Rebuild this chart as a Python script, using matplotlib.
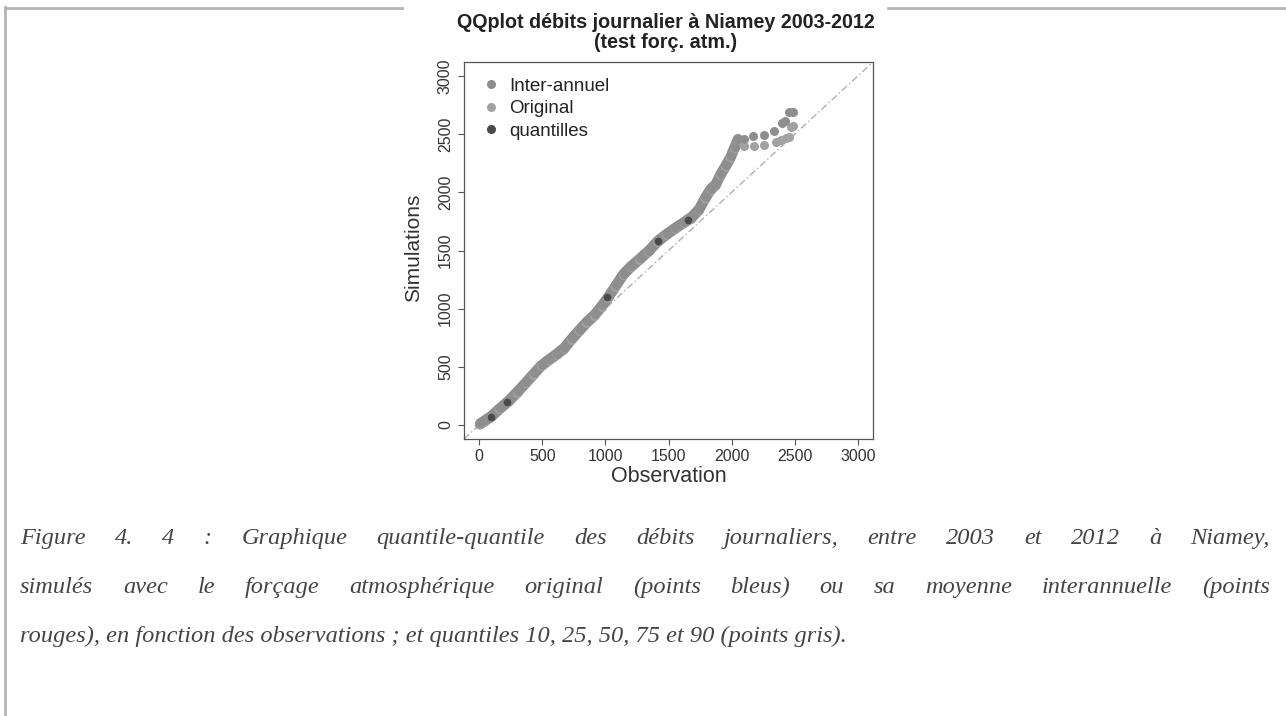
import matplotlib
matplotlib.use("Agg")
import matplotlib.pyplot as plt
from matplotlib.lines import Line2D

# quantile-quantile values (observation, simulation)
obs_orig = [5, 40, 95, 160, 230, 300, 370, 430, 490, 550, 610, 670, 730, 790, 850,
            910, 970, 1020, 1080, 1140, 1200, 1270, 1340, 1410, 1480, 1550, 1620,
            1680, 1740, 1790, 1830, 1870, 1910, 1950, 1990, 2020, 2050,
            2095, 2175, 2254, 2349, 2389, 2429, 2452, 2468, 2484]
sim_orig = [5, 30, 69, 135, 198, 275, 360, 431, 505, 555, 600, 650, 730, 805, 875,
            935, 1015, 1090, 1190, 1290, 1355, 1420, 1490, 1570, 1630, 1685, 1735,
            1775, 1845, 1945, 2015, 2055, 2145, 2215, 2295, 2375, 2435,
            2397, 2397, 2405, 2431, 2448, 2466, 2474, 2560, 2569]
n_band_orig = 37

obs_inter = [10, 45, 100, 165, 235, 305, 375, 435, 495, 555, 615, 675, 735, 795, 855,
             915, 975, 1025, 1085, 1145, 1205, 1275, 1345, 1415, 1485, 1555, 1625,
             1685, 1745, 1795, 1835, 1875, 1915, 1955, 1995, 2025, 2050,
             2095, 2167, 2254, 2333, 2397, 2420, 2452, 2484]
sim_inter = [15, 40, 80, 145, 210, 290, 372, 445, 515, 565, 612, 665, 745, 818, 890,
             950, 1030, 1105, 1202, 1300, 1367, 1432, 1500, 1582, 1642, 1695, 1745,
             1790, 1860, 1960, 2030, 2070, 2160, 2232, 2310, 2390, 2457,
             2457, 2483, 2491, 2526, 2595, 2610, 2690, 2690]
n_band_inter = 37

obs_q = [95, 222, 1016, 1413, 1651]
sim_q = [69, 198, 1103, 1578, 1759]

ticks = [0, 500, 1000, 1500, 2000, 2500, 3000]

caption = [
    "Figure 4. 4 : Graphique quantile-quantile des débits journaliers, entre 2003 et 2012 à Niamey,",
    "simulés avec le forçage atmosphérique original (points bleus) ou sa moyenne interannuelle (points",
    "rouges), en fonction des observations ; et quantiles 10, 25, 50, 75 et 90 (points gris).",
]

c_inter = "#8e8e8e"
c_orig = "#a2a2a2"
c_q = "#4a4a4a"

W, H = 1286, 716
fig = plt.figure(figsize=(W / 100, H / 100), dpi=100)


def fx(px):
    return px / W


def fy(py):
    return 1 - py / H


ax = fig.add_axes([fx(464), fy(439), fx(873) - fx(464), fy(62) - fy(439)])

ax.axline((0, 0), (1, 1), color="#b0b0b0", lw=1, dashes=(5, 2, 1, 2), zorder=1)

ax.plot(obs_orig[:n_band_orig], sim_orig[:n_band_orig], color=c_orig, lw=7.5,
        solid_capstyle="round", solid_joinstyle="round", zorder=2)
ax.plot(obs_inter[:n_band_inter], sim_inter[:n_band_inter], color=c_inter, lw=7.5,
        solid_capstyle="round", solid_joinstyle="round", zorder=2)
ax.plot(obs_orig, sim_orig, "o", color=c_orig, ms=6.5, mec="none", zorder=3)
ax.plot(obs_inter, sim_inter, "o", color=c_inter, ms=6.5, mec="none", zorder=3)
ax.plot(obs_q, sim_q, "o", color=c_q, ms=5.5, mec="none", zorder=4)

ax.set_xlim(-120, 3120)
ax.set_ylim(-120, 3120)
ax.set_xticks(ticks)
ax.set_yticks(ticks)
for s in ax.spines.values():
    s.set_color("#555555")
    s.set_linewidth(0.9)
ax.tick_params(length=4, width=0.8, color="#555555", labelcolor="#333333",
               labelsize=11.5, pad=3)
ax.tick_params(axis="y", labelrotation=90, pad=4)
for lab in ax.get_xticklabels() + ax.get_yticklabels():
    lab.set_family("Liberation Sans")
for lab in ax.get_yticklabels():
    lab.set_va("center")

handles = [
    Line2D([], [], marker="o", ls="", color=c_inter, ms=6.5, mec="none"),
    Line2D([], [], marker="o", ls="", color=c_orig, ms=6.5, mec="none"),
    Line2D([], [], marker="o", ls="", color=c_q, ms=6.5, mec="none"),
]
ax.legend(handles, ["Inter-annuel", "Original", "quantilles"], loc="upper left",
          bbox_to_anchor=(0.021, 0.984), frameon=False, borderpad=0,
          handlelength=1.0, handletextpad=0.45, labelspacing=0.3,
          prop={"family": "Liberation Sans", "size": 13.5}, labelcolor="#222222")

fig.text(fx(669), fy(477), "Observation", ha="center", va="center", fontsize=15.5,
         family="Liberation Sans", color="#333333")
fig.text(fx(414), fy(248), "Simulations", ha="center", va="center", fontsize=15,
         rotation=90, family="Liberation Sans", color="#333333")

fig.text(fx(666), fy(22), "QQplot débits journalier à Niamey 2003-2012", ha="center",
         va="center", fontsize=14.2, fontweight="bold", family="Liberation Sans", color="#222222")
fig.text(fx(666), fy(42), "(test forç. atm.)", ha="center", va="center", fontsize=14.2,
         fontweight="bold", family="Liberation Sans", color="#222222")

# page frame around the figure
frame = dict(color="#b4b4b4", lw=2)
fig.add_artist(Line2D([fx(5), fx(402)], [fy(7.5), fy(7.5)], **frame))
fig.add_artist(Line2D([fx(888), fx(1286)], [fy(7.5), fy(7.5)], **frame))
fig.add_artist(Line2D([fx(5), fx(5)], [fy(6.5), fy(716)], **frame))

# caption, first two lines justified
renderer = fig.canvas.get_renderer()
cap_style = dict(fontsize=17.6, style="italic", family="Liberation Serif", color="#444444",
                 va="baseline", ha="left")
baselines = [544, 593, 642]
x0, x1 = 20, 1270
for i, line in enumerate(caption):
    y = fy(baselines[i])
    if i == len(caption) - 1:
        fig.text(fx(x0), y, line, **cap_style)
        continue
    words = line.split(" ")
    texts = [fig.text(0, y, w, **cap_style) for w in words]
    widths = [t.get_window_extent(renderer).width for t in texts]
    gap = (x1 - x0 - sum(widths)) / (len(words) - 1)
    x = x0
    for t, w in zip(texts, widths):
        t.set_x(fx(x))
        x += w + gap

fig.savefig("out.png", dpi=100)
